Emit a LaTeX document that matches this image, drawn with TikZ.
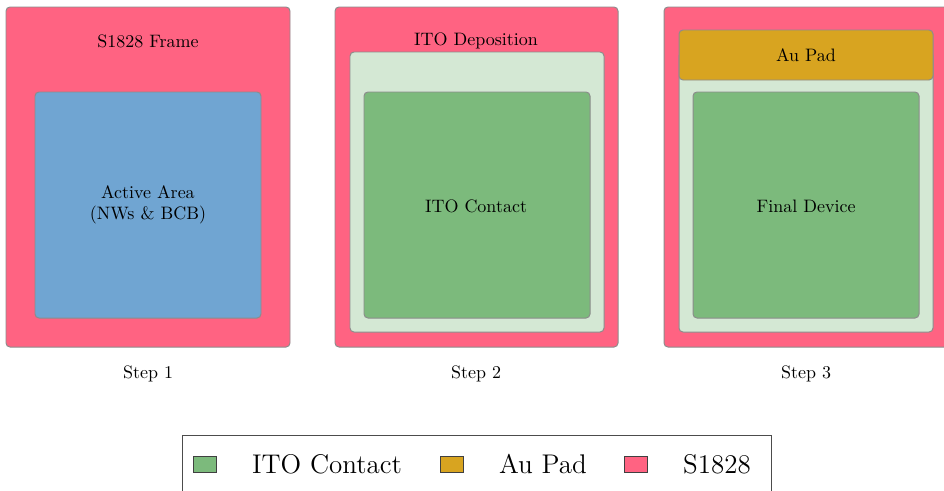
\documentclass[tikz,border=0pt]{standalone}
\definecolor{resist}{RGB}{255,99,130}
\definecolor{active}{RGB}{112,165,210}
\definecolor{ito}{RGB}{124,186,124}
\definecolor{itolight}{RGB}{212,232,212}
\definecolor{gold}{RGB}{216,164,32}
\definecolor{edge}{RGB}{140,140,140}
\begin{document}
\begin{tikzpicture}[x=0.5556pt, y=-0.5556pt,
  layer/.style={draw=edge, line width=0.55pt, rounded corners=2.2pt},
  swatch/.style={draw=black!75, line width=0.5pt},
  basetext/.style={anchor=base, font=\normalsize},
  legtext/.style={anchor=base, font=\Large, scale=1.042}]
\useasboundingbox (0,0) rectangle (944,490);

% Step 1: resist frame around the active area
\path[layer, fill=resist] (6,7) rectangle (290,347);
\path[layer, fill=active] (35,92) rectangle (261,318);
\node[basetext] (t1) at (148,47) {S1828 Frame};
\node[align=center] (a1) at (148,205) {Active Area\\(NWs \& BCB)};
\node[basetext] (s1) at (148,378) {Step 1};

% Step 2: ITO deposited over the frame opening
\path[layer, fill=resist] (335,7) rectangle (618,347);
\path[layer, fill=itolight] (350,52) rectangle (604,332);
\path[layer, fill=ito] (364,92) rectangle (590,318);
\node[basetext] (t2) at (476,45) {ITO Deposition};
\node (a2) at (476,206) {ITO Contact};
\node[basetext] (s2) at (476,378) {Step 2};

% Step 3: gold pad added on top
\path[layer, fill=resist] (664,7) rectangle (948,347);
\path[layer, fill=itolight] (679,52) rectangle (933,332);
\path[layer, fill=gold] (679,30) rectangle (933,80);
\path[layer, fill=ito] (693,92) rectangle (919,318);
\node[basetext] (t3) at (806,61) {Au Pad};
\node (a3) at (806,206) {Final Device};
\node[basetext] (s3) at (806,378) {Step 3};

% Legend
\draw[draw=black!70, line width=0.5pt] (182.5,435) rectangle (771,505);
\path[swatch, fill=ito] (193,456) rectangle (216,472);
\node[legtext] (l1) at (327,473) {ITO Contact};
\path[swatch, fill=gold] (440,456) rectangle (463,472);
\node[legtext] (l2) at (543,473) {Au Pad};
\path[swatch, fill=resist] (624,456) rectangle (647,472);
\node[legtext] (l3) at (717,473) {S1828};
\end{tikzpicture}
\end{document}
